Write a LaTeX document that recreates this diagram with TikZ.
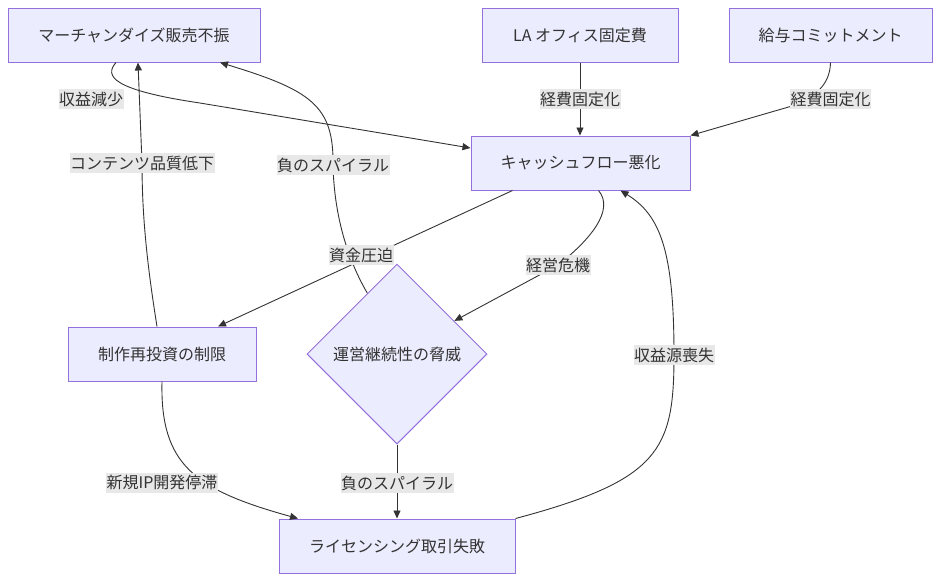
\documentclass[tikz,border=0pt]{standalone}
\usepackage{fontspec}
\setmainfont{Noto Sans CJK JP}
\usepackage{tikz}
\usetikzlibrary{shapes.geometric, arrows.meta}
\definecolor{boxfill}{HTML}{ECECFF}
\definecolor{boxline}{HTML}{9370DB}
\definecolor{edgeline}{HTML}{333333}
\definecolor{lblfill}{HTML}{E8E8E8}
\begin{document}
\begin{tikzpicture}[x=1pt, y=-1pt,
  box/.style={draw=boxline, fill=boxfill, line width=1pt, text=edgeline,
    minimum height=54pt, inner sep=0pt, font=\fontsize{16pt}{19pt}\selectfont},
  threat/.style={box, shape=diamond, aspect=1, minimum width=180pt, minimum height=180pt},
  lbl/.style={fill=lblfill, text=edgeline, inner xsep=0.5pt, inner ysep=2.5pt,
    font=\fontsize{16pt}{19pt}\selectfont},
  edge/.style={draw=edgeline, line width=0.9pt, -{Triangle[length=8pt, width=7pt]}}]
  \useasboundingbox (0,0) rectangle (941,582);
  % ノード
  \node[box, minimum width=252pt] (merch) at (134,35) {マーチャンダイズ販売不振};
  \node[box, minimum width=196pt] (la) at (580,35) {LA オフィス固定費};
  \node[box, minimum width=203pt] (sal) at (830.5,35) {給与コミットメント};
  \node[box, minimum width=219pt] (cf) at (580.5,163) {キャッシュフロー悪化};
  \node[box, minimum width=188pt] (inv) at (162,354) {制作再投資の制限};
  \node[threat] (dia) at (397,354) {運営継続性の脅威};
  \node[box, minimum width=236pt] (lic) at (397,546) {ライセンシング取引失敗};
  % ラベル位置
  \coordinate (l1) at (91,99);
  \coordinate (l2) at (580,99);
  \coordinate (l3) at (830.5,99);
  \coordinate (l4) at (361,255);
  \coordinate (l5) at (558,265);
  \coordinate (l6) at (142,163);
  \coordinate (l7) at (333,165);
  \coordinate (l8) at (162,483);
  \coordinate (l9) at (397,483);
  \coordinate (l10) at (674,355);
  % エッジ
  \draw[edge] ([xshift=-18pt]merch.south) .. controls (104,76) and (112,90) .. (200,103) -- ([yshift=15pt]cf.west);
  \draw[edge] (la.south) -- (la.south |- cf.north);
  \draw[edge] (sal.south) .. controls (830,85) and (815,97) .. (792,106) -- (cf.north east);
  \draw[edge] ([xshift=-68pt]cf.south) -- ([xshift=56pt]inv.north);
  \draw[edge] ([xshift=18pt]cf.south) .. controls (615,210) and (590,240) .. (l5) -- (dia.30);
  \draw[edge] ([xshift=-5pt]inv.north) .. controls (148,270) and (142,220) .. (l6) -- ([xshift=4pt]merch.south);
  \draw[edge] (dia.116.6) .. controls (345,255) and (334,210) .. (l7) .. controls (334,105) and (310,90) .. ([xshift=86pt]merch.south);
  \draw[edge] (inv.south) .. controls (160,465) and (195,490) .. ([xshift=-99pt]lic.north);
  \draw[edge] (dia.south) -- (lic.north);
  \draw[edge] (lic.north east) .. controls (660,480) and (674,450) .. (l10) .. controls (674,250) and (660,215) .. ([xshift=40pt]cf.south);
  % ラベル
  \node[lbl] (t1) at (l1) {収益減少};
  \node[lbl] (t2) at (l2) {経費固定化};
  \node[lbl] (t3) at (l3) {経費固定化};
  \node[lbl] (t4) at (l4) {資金圧迫};
  \node[lbl] (t5) at (l5) {経営危機};
  \node[lbl] (t6) at (l6) {コンテンツ品質低下};
  \node[lbl] (t7) at (l7) {負のスパイラル};
  \node[lbl] (t8) at (l8) {新規IP開発停滞};
  \node[lbl] (t9) at (l9) {負のスパイラル};
  \node[lbl] (t10) at (l10) {収益源喪失};
\end{tikzpicture}
\end{document}
